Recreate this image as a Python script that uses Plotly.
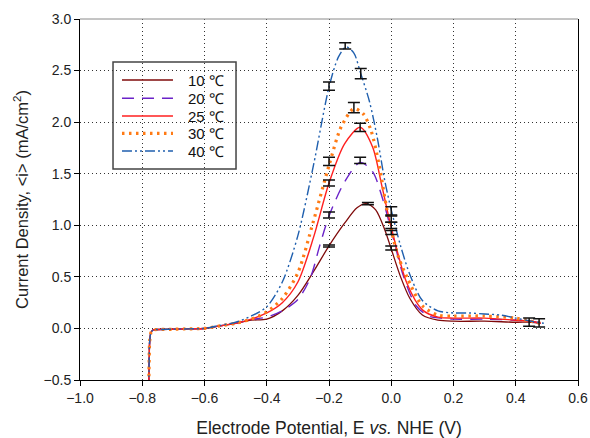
import plotly.graph_objects as go

# Polarization curves: current density vs electrode potential at five temperatures
E_10 = [-0.779, -0.778, -0.776, -0.772, -0.765, -0.74, -0.70, -0.65, -0.60, -0.55, -0.50, -0.45,
        -0.40, -0.35, -0.30, -0.25, -0.20, -0.15, -0.11, -0.08, -0.05, -0.02, 0.00, 0.03, 0.06,
        0.10, 0.15, 0.20, 0.30, 0.40, 0.45, 0.48]
i_10 = [-0.60, -0.35, -0.12, -0.04, -0.015, -0.01, -0.008, -0.004, 0.0, 0.025, 0.05, 0.08,
        0.09, 0.17, 0.32, 0.55, 0.80, 1.02, 1.17, 1.21, 1.15, 0.95, 0.77, 0.50, 0.29,
        0.13, 0.08, 0.07, 0.07, 0.06, 0.06, 0.05]

E_20 = [-0.779, -0.778, -0.776, -0.772, -0.765, -0.74, -0.70, -0.65, -0.60, -0.55, -0.50, -0.45,
        -0.40, -0.35, -0.30, -0.26, -0.23, -0.20, -0.15, -0.10, -0.06, -0.03, 0.00, 0.04, 0.08,
        0.12, 0.16, 0.20, 0.30, 0.40, 0.45, 0.48]
i_20 = [-0.60, -0.35, -0.12, -0.04, -0.015, -0.01, -0.008, -0.004, 0.0, 0.025, 0.05, 0.085,
        0.11, 0.17, 0.28, 0.49, 0.80, 1.09, 1.42, 1.61, 1.52, 1.28, 0.95, 0.50, 0.22,
        0.12, 0.10, 0.09, 0.09, 0.08, 0.07, 0.05]

E_25 = [-0.779, -0.778, -0.776, -0.772, -0.765, -0.74, -0.70, -0.65, -0.60, -0.55, -0.50, -0.45,
        -0.40, -0.35, -0.30, -0.25, -0.20, -0.15, -0.10, -0.06, -0.03, 0.00, 0.05, 0.10,
        0.15, 0.20, 0.30, 0.40, 0.45, 0.48]
i_25 = [-0.60, -0.35, -0.12, -0.04, -0.015, -0.01, -0.008, -0.004, 0.0, 0.025, 0.05, 0.09,
        0.15, 0.25, 0.45, 0.88, 1.41, 1.79, 1.95, 1.76, 1.38, 0.98, 0.44, 0.18,
        0.11, 0.10, 0.10, 0.08, 0.07, 0.05]

E_30 = [-0.779, -0.778, -0.776, -0.772, -0.765, -0.74, -0.70, -0.65, -0.60, -0.55, -0.50, -0.45,
        -0.40, -0.35, -0.30, -0.25, -0.20, -0.16, -0.12, -0.09, -0.065, -0.04, -0.013, 0.02,
        0.05, 0.10, 0.15, 0.20, 0.30, 0.40, 0.45, 0.48]
i_30 = [-0.60, -0.35, -0.12, -0.04, -0.015, -0.01, -0.008, -0.004, 0.0, 0.025, 0.05, 0.09,
        0.16, 0.29, 0.54, 1.04, 1.58, 1.96, 2.13, 2.08, 1.92, 1.60, 1.14, 0.72,
        0.50, 0.22, 0.13, 0.12, 0.12, 0.10, 0.07, 0.05]

E_40 = [-0.779, -0.778, -0.776, -0.772, -0.765, -0.74, -0.70, -0.65, -0.60, -0.55, -0.50, -0.45,
        -0.40, -0.35, -0.30, -0.25, -0.20, -0.17, -0.145, -0.12, -0.10, -0.07, -0.045, -0.02,
        0.00, 0.03, 0.06, 0.10, 0.15, 0.20, 0.25, 0.30, 0.35, 0.40, 0.45, 0.49]
i_40 = [-0.60, -0.35, -0.12, -0.04, -0.015, -0.01, -0.008, -0.004, 0.0, 0.03, 0.06, 0.12,
        0.21, 0.45, 0.90, 1.58, 2.34, 2.63, 2.73, 2.67, 2.49, 2.20, 1.85, 1.42,
        1.15, 0.80, 0.52, 0.27, 0.17, 0.15, 0.15, 0.14, 0.13, 0.10, 0.07, 0.05]

# Replicate-scatter bars (mean and half-range)
bar_E = [-0.200, -0.148, -0.098, 0.000,
         -0.200, -0.120, 0.000,
         -0.200, -0.100, 0.000,
         -0.200, -0.100, 0.000,
         -0.200, -0.075, 0.000,
         0.443, 0.475]
bar_i = [2.35, 2.74, 2.47, 1.14,
         1.62, 2.14, 1.06,
         1.41, 1.95, 1.00,
         1.10, 1.63, 0.93,
         0.80, 1.21, 0.78,
         0.06, 0.055]
bar_err = [0.04, 0.03, 0.05, 0.04,
           0.04, 0.05, 0.03,
           0.03, 0.04, 0.03,
           0.03, 0.03, 0.02,
           0.01, 0.01, 0.02,
           0.04, 0.04]

labels = ["10 \u2103", "20 \u2103", "25 \u2103", "30 \u2103", "40 \u2103"]
x_ticks = [-1.0, -0.8, -0.6, -0.4, -0.2, 0.0, 0.2, 0.4, 0.6]
y_ticks = [-0.5, 0.0, 0.5, 1.0, 1.5, 2.0, 2.5, 3.0]

styles = [
    dict(color="#7f0a0a", width=1.3, dash="solid"),
    dict(color="#6a22c8", width=1.4, dash="12px,8px"),
    dict(color="#ff1f1f", width=1.4, dash="solid"),
    dict(color="#ff7a14", width=3.2, dash="2.5px,4.5px"),
    dict(color="#1f5fae", width=1.4, dash="10px,3px,2px,3px,2px,3px"),
]
curves = [(E_10, i_10), (E_20, i_20), (E_25, i_25), (E_30, i_30), (E_40, i_40)]

fig = go.Figure()
for (ex, iy), ln, name in zip(curves, styles, labels):
    fig.add_trace(go.Scatter(
        x=ex, y=iy, mode="lines", name=name, showlegend=False,
        line=dict(shape="spline", smoothing=0.8, **ln),
    ))

fig.add_trace(go.Scatter(
    x=bar_E, y=bar_i, mode="markers", showlegend=False, hoverinfo="skip",
    marker=dict(size=1, color="rgba(0,0,0,0)"),
    error_y=dict(type="data", array=bar_err, visible=True,
                 color="#111111", thickness=1.5, width=6),
))

font_family = "Liberation Sans, Arial, sans-serif"
grid_dash = "1px,3px"

# Key box drawn in paper coordinates: frame, line samples and labels
key_left, key_right, key_bottom, key_top = 0.0663, 0.3133, 0.5845, 0.8809
sample_x0, sample_x1, label_x = 0.0843, 0.1867, 0.2129
row_y = [0.8310, 0.7803, 0.7313, 0.6833, 0.6343]

shapes = [
    dict(type="line", xref="paper", yref="paper", x0=0, x1=1, y0=1, y1=1,
         line=dict(color="#8a8a8a", width=1)),
    dict(type="rect", xref="paper", yref="paper", layer="between",
         x0=key_left, x1=key_right, y0=key_bottom, y1=key_top,
         fillcolor="white", line=dict(color="#444444", width=1.5)),
]
annotations = []
for ln, name, yy in zip(styles, labels, row_y):
    shapes.append(dict(type="line", xref="paper", yref="paper", layer="above",
                       x0=sample_x0, x1=sample_x1, y0=yy, y1=yy,
                       line=dict(color=ln["color"], width=ln["width"], dash=ln["dash"])))
    annotations.append(dict(xref="paper", yref="paper", x=label_x, y=yy,
                            xanchor="left", yanchor="middle", showarrow=False,
                            text=name, font=dict(size=15, color="#111111")))

fig.update_layout(
    width=590, height=438,
    margin=dict(l=80, r=12, t=19, b=58, autoexpand=False),
    paper_bgcolor="white", plot_bgcolor="white",
    font=dict(family=font_family, size=14, color="#222222"),
    showlegend=False,
    xaxis=dict(
        range=[-1.0, 0.6], tickvals=x_ticks, tickformat=".1f",
        ticks="outside", ticklen=5, tickcolor="#000000",
        showline=True, linecolor="#000000", linewidth=1,
        showgrid=True, gridcolor="#333333", griddash=grid_dash, gridwidth=1,
        zeroline=False, automargin=False,
        tickfont=dict(size=14, color="#222222"),
        title=dict(text="Electrode Potential, E <i>vs.</i> NHE (V)",
                   font=dict(size=17.5, color="#222222"), standoff=17),
    ),
    yaxis=dict(
        range=[-0.5, 3.0], tickvals=y_ticks, tickformat=".1f",
        ticks="outside", ticklen=5, tickcolor="#000000",
        showline=True, linecolor="#000000", linewidth=1, mirror=True,
        showgrid=True, gridcolor="#333333", griddash=grid_dash, gridwidth=1,
        zeroline=False, automargin=False,
        tickfont=dict(size=14, color="#222222"),
        title=dict(text="Current Density, &lt;i&gt; (mA/cm<sup>2</sup>)",
                   font=dict(size=16.5, color="#222222"), standoff=10),
    ),
    shapes=shapes,
    annotations=annotations,
)

fig.write_html("out.html")
